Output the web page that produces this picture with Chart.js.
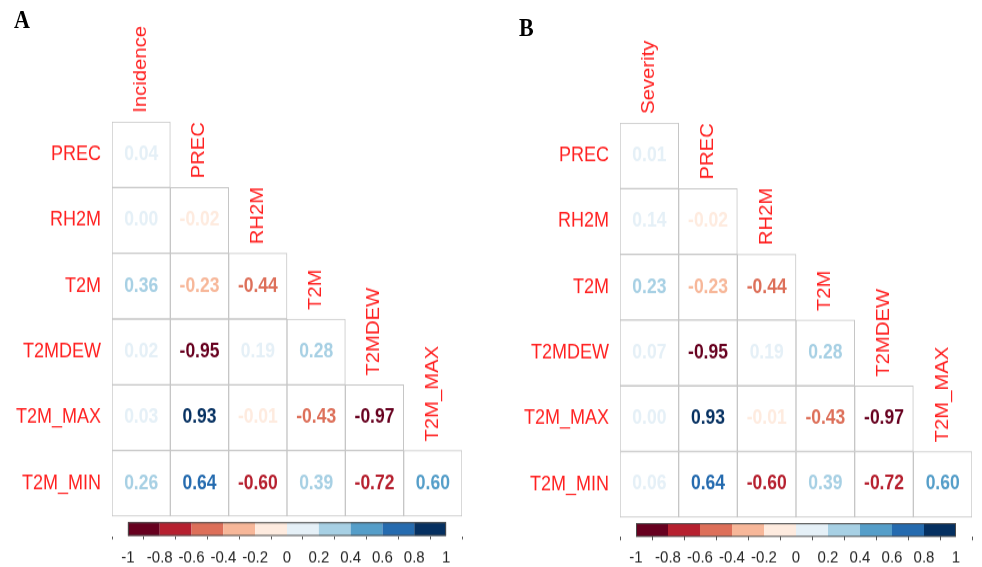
<!DOCTYPE html>
<html>
<head>
<meta charset="utf-8">
<script src="https://cdn.jsdelivr.net/npm/chart.js@4.4.1/dist/chart.umd.min.js"></script>
<style>
html, body { margin: 0; padding: 0; background: #fff; }
#wrap { position: absolute; left: 0; top: 0; width: 982px; height: 503px; transform: scaleY(1.12724); transform-origin: 0 0; }
canvas { position: absolute; top: 0; }
.tag { position: absolute; font: bold 22px "Liberation Serif", "Times New Roman", serif; line-height: 22px; color: #000; }
</style>
</head>
<body>
<div id="wrap">
  <canvas id="chartA" width="491" height="503" style="left:0"></canvas>
  <canvas id="chartB" width="491" height="503" style="left:491px"></canvas>
  <div class="tag" style="left:14px;top:7px">A</div>
  <div class="tag" style="left:519px;top:14px">B</div>
</div>
<script>
const rowLabels = ['PREC', 'RH2M', 'T2M', 'T2MDEW', 'T2M_MAX', 'T2M_MIN'];
const colLabelsA = ['Incidence', 'PREC', 'RH2M', 'T2M', 'T2MDEW', 'T2M_MAX'];
const colLabelsB = ['Severity', 'PREC', 'RH2M', 'T2M', 'T2MDEW', 'T2M_MAX'];

// lower triangle, one list per row (shown with 2 decimals)
const incidenceCorr = [
  [0.04],
  [0.003, -0.02],
  [0.36, -0.23, -0.44],
  [0.02, -0.95, 0.19, 0.28],
  [0.03, 0.93, -0.01, -0.43, -0.97],
  [0.26, 0.64, -0.60, 0.39, -0.72, 0.60]
];
const severityCorr = [
  [0.01],
  [0.14, -0.02],
  [0.23, -0.23, -0.44],
  [0.07, -0.95, 0.19, 0.28],
  [0.003, 0.93, -0.01, -0.43, -0.97],
  [0.06, 0.64, -0.60, 0.39, -0.72, 0.60]
];
const legendTicks = [-1, -0.8, -0.6, -0.4, -0.2, 0, 0.2, 0.4, 0.6, 0.8, 1];

// RdBu, 10 bins
const palette = ['#67001F', '#B6202F', '#DD6F59', '#F7B799', '#FEEBDF',
                 '#E5F0F7', '#A7D0E4', '#559EC9', '#256BAF', '#053061'];
const RED = '#ff2020';
const FONT = '"Liberation Sans", Arial, sans-serif';
const CB_TOP = 6.09, CB_BOT = 6.30;
const W = 491, H = 503;

function binColor(v) {
  let k = Math.ceil(Math.round((v + 1) * 5 * 1000) / 1000) - 1;
  k = Math.max(0, Math.min(palette.length - 1, k));
  return palette[k];
}

function labelsPlugin(values, cols) {
  return {
    id: 'corrLabels',
    afterDatasetsDraw(chart) {
      const { ctx, scales: { x, y, cbt } } = chart;
      ctx.save();
      // frame round the colour bar
      const y0 = y.getPixelForValue(CB_TOP), y1 = y.getPixelForValue(CB_BOT);
      const x0 = cbt.getPixelForValue(-1), x1 = cbt.getPixelForValue(1);
      ctx.strokeStyle = '#4a4a4a';
      ctx.lineWidth = 1;
      ctx.strokeRect(x0 + 0.5, y0 + 0.5, x1 - x0 - 1, y1 - y0 - 1);

      // coefficients
      ctx.font = 'bold 17.5px ' + FONT;
      ctx.textAlign = 'center';
      ctx.textBaseline = 'middle';
      values.forEach((row, r) => row.forEach((v, c) => {
        ctx.fillStyle = binColor(v);
        ctx.fillText(v.toFixed(2), x.getPixelForValue(c), y.getPixelForValue(r + 0.5));
      }));

      // column names, rotated above the top cell of each column
      ctx.font = '18px ' + FONT;
      ctx.fillStyle = RED;
      ctx.textAlign = 'left';
      cols.forEach((lab, j) => {
        ctx.save();
        ctx.translate(x.getPixelForValue(j), y.getPixelForValue(j) - 8);
        ctx.rotate(-Math.PI / 2);
        ctx.fillText(lab, 0, 0);
        ctx.restore();
      });
      ctx.restore();
    }
  };
}

function drawPanel(id, values, cols, geo) {
  const cellWidth = (W - geo.left - geo.right) / cols.length;
  const cellSets = values.map((row, r) => ({
    xAxisID: 'x', yAxisID: 'y',
    data: cols.map((_, c) => c < row.length ? [r, r + 1] : null),
    backgroundColor: '#ffffff',
    borderColor: '#c6c6c6',
    borderWidth: 1,
    borderSkipped: false,
    grouped: false,
    barThickness: cellWidth
  }));
  // colour bar: one thick line, a segment per bin
  const barHeightPx = (CB_BOT - CB_TOP) * (geo.bottom - geo.top) / CB_BOT;
  const colourBar = {
    type: 'line',
    xAxisID: 'cbt', yAxisID: 'y',
    data: legendTicks.map(v => ({ x: v, y: (CB_TOP + CB_BOT) / 2 })),
    borderWidth: barHeightPx,
    borderCapStyle: 'butt',
    pointRadius: 0,
    tension: 0,
    segment: { borderColor: c => palette[c.p0DataIndex] },
    borderColor: palette[0],
    order: -1
  };

  return new Chart(document.getElementById(id), {
    type: 'bar',
    data: { labels: cols, datasets: cellSets.concat([colourBar]) },
    options: {
      responsive: false,
      animation: false,
      devicePixelRatio: 1,
      events: [],
      layout: { padding: { top: geo.top, right: geo.right, left: 0, bottom: 0 } },
      plugins: { legend: { display: false }, tooltip: { enabled: false } },
      scales: {
        x: { type: 'category', display: false, offset: true },
        y: {
          type: 'linear', reverse: true, min: 0, max: CB_BOT, stacked: false,
          afterBuildTicks: s => { s.ticks = rowLabels.map((_, i) => ({ value: i + 0.5 })); },
          afterFit: s => { s.width = geo.left; },
          ticks: {
            autoSkip: false, padding: 11, color: RED,
            font: { family: FONT, size: 18 },
            callback: (v, i) => rowLabels[i]
          },
          grid: { display: false, drawTicks: false },
          border: { display: false }
        },
        cbt: {
          type: 'linear', axis: 'x', position: 'bottom', min: -1, max: 1,
          afterBuildTicks: s => { s.ticks = legendTicks.map(v => ({ value: v })); },
          afterFit: s => { s.height = H - geo.bottom; },
          ticks: {
            autoSkip: false, maxRotation: 0, padding: 7, color: '#222',
            font: { family: FONT, size: 15 },
            callback: (v, i) => String(legendTicks[i])
          },
          grid: { drawOnChartArea: false, tickLength: 3, color: '#555', lineWidth: 1 },
          border: { display: false }
        }
      }
    },
    plugins: [labelsPlugin(values, cols)]
  });
}

drawPanel('chartA', incidenceCorr, colLabelsA, { left: 112, right: 29, top: 108, bottom: 475.5 });
drawPanel('chartB', severityCorr, colLabelsB, { left: 129, right: 10, top: 109, bottom: 476.3 });
</script>
</body>
</html>
